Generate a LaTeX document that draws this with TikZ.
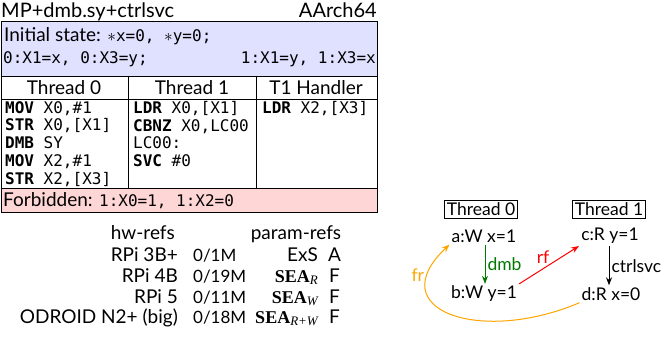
\documentclass[tikz,border=0pt]{standalone}
\usepackage{fontspec}
\setmainfont{Lato}
\setmonofont{DejaVu Sans Mono}
\newfontfamily\seafont{Liberation Serif}
\usepackage{xcolor}
\usetikzlibrary{arrows.meta,positioning}
\definecolor{initblue}{RGB}{224,224,255}
\definecolor{forbidpink}{RGB}{255,214,214}
\definecolor{dmbgreen}{RGB}{0,120,0}
\definecolor{frorange}{RGB}{255,165,0}

\newcommand{\op}[1]{\textbf{#1}}
\newcommand{\sea}[1]{{\fontsize{18}{18}\selectfont\seafont\bfseries SEA}\raisebox{-0.3ex}{\fontsize{13}{13}\selectfont\seafont\itshape #1}}

\begin{document}
\begin{tikzpicture}[x=1pt,y=-1pt,
    font=\fontsize{19}{21}\selectfont,
    >={Stealth[length=8pt,width=6pt]},
    thbox/.style={draw, line width=0.8pt, inner sep=2.5pt},
    ev/.style={inner sep=2pt},
    rel/.style={->, line width=1pt},
    codecol/.style={anchor=north west, inner sep=0, align=left,
        font=\ttfamily\fontsize{16}{17.8}\selectfont},
    res/.style={anchor=base west, inner sep=0, font=\fontsize{17}{19}\selectfont}]
    \useasboundingbox (0,0) rectangle (665,337);

    % Title line
    \node[anchor=base west, inner sep=0, font=\fontsize{20}{21}\selectfont] (title) at (1,18) {MP+dmb.sy+ctrlsvc};
    \node[anchor=base east, inner sep=0, font=\fontsize{20}{21}\selectfont] (arch) at (377,18) {AArch64};

    % Test box
    \fill[initblue] (1,22) rectangle (377,76);
    \fill[forbidpink] (1,188) rectangle (377,212);
    \draw[line width=0.8pt] (1,76) -- (377,76);
    \draw[line width=0.8pt] (1,99) -- (377,99);
    \draw[line width=0.8pt] (1,188) -- (377,188);
    \draw[line width=0.8pt] (128,76) -- (128,188);
    \draw[line width=0.8pt] (256,76) -- (256,188);
    \draw[line width=1pt] (1,22) rectangle (377,212);

    % Initial state
    \node[anchor=base west, inner sep=0] (init1) at (4,42)
        {Initial state: \texttt{\fontsize{16}{18}\selectfont$\ast$x=0, $\ast$y=0;}};
    \node[anchor=base west, inner sep=0, font=\ttfamily\fontsize{16}{18}\selectfont] (init2) at (3,64) {0:X1=x, 0:X3=y;};
    \node[anchor=base east, inner sep=0, font=\ttfamily\fontsize{16}{18}\selectfont] (init3) at (376,64) {1:X1=y, 1:X3=x};

    % Thread headers
    \node (h0) at (64,88) {Thread 0};
    \node (h1) at (192,88) {Thread 1};
    \node (h2) at (316,88) {T1 Handler};

    % Code
    \node[codecol] (code0) at (5,101)
        {\op{MOV} X0,\#1\\ \op{STR} X0,[X1]\\ \op{DMB} SY\\ \op{MOV} X2,\#1\\ \op{STR} X2,[X3]};
    \node[codecol] (code1) at (133,101)
        {\op{LDR} X0,[X1]\\ \op{CBNZ} X0,LC00\\ LC00:\\ \op{SVC} \#0};
    \node[codecol] (code2) at (262,101)
        {\op{LDR} X2,[X3]};

    % Forbidden
    \node[anchor=base west, inner sep=0] (forb) at (3,207)
        {Forbidden: \texttt{\fontsize{16}{18}\selectfont 1:X0=1, 1:X2=0}};

    % Results
    \node[anchor=base east, inner sep=0] (hw) at (175,239) {hw-refs};
    \node[anchor=base east, inner sep=0] (hw1) at (178,261) {RPi 3B+};
    \node[anchor=base east, inner sep=0] (hw2) at (178,282) {RPi 4B};
    \node[anchor=base east, inner sep=0] (hw3) at (178,303) {RPi 5};
    \node[anchor=base east, inner sep=0] (hw4) at (178,323) {ODROID N2+ (big)};
    \node[res] (r1) at (193,261) {0/1M};
    \node[res] (r2) at (193,282) {0/19M};
    \node[res] (r3) at (193,303) {0/11M};
    \node[res] (r4) at (193,323) {0/18M};
    \node[anchor=base, inner sep=0] (pr) at (296,239) {param-refs};
    \node[anchor=base east, inner sep=0] (p1) at (318,261) {ExS};
    \node[anchor=base east, inner sep=0] (p2) at (318,282) {\sea{R}};
    \node[anchor=base east, inner sep=0] (p3) at (318,303) {\sea{W}};
    \node[anchor=base east, inner sep=0] (p4) at (318,323) {\sea{R+W}};
    \node[anchor=base west, inner sep=0] (v1) at (328,261) {A};
    \node[anchor=base west, inner sep=0] (v2) at (329,282) {F};
    \node[anchor=base west, inner sep=0] (v3) at (329,303) {F};
    \node[anchor=base west, inner sep=0] (v4) at (329,323) {F};

    % Execution graph
    \begin{scope}[font=\fontsize{17.5}{19}\selectfont]
    \node[thbox] (t0) at (481,209) {Thread 0};
    \node[thbox] (t1) at (609,209) {Thread 1};
    \node[ev] (a) at (484,236) {a:W x=1};
    \node[ev] (b) at (484,294) {b:W y=1};
    \node[ev] (c) at (610,236) {c:R y=1};
    \node[ev] (d) at (611,294) {d:R x=0};

    \draw[rel, dmbgreen] (a.south -| 485,0) -- node[right, inner sep=2pt] {dmb} (b.north -| 485,0);
    \draw[rel] (c.south -| 609,0) -- node[right, inner sep=2pt] {ctrlsvc} (d.north -| 609,0);
    \draw[rel, red] (b.north east) -- node[pos=0.4, above=1pt] {rf} (c.south west);
    \draw[rel, frorange] (d.south west) .. controls (480,345) and (380,310) .. (a.south west)
        node[pos=0.83, left] {fr};
    \end{scope}
\end{tikzpicture}
\end{document}
